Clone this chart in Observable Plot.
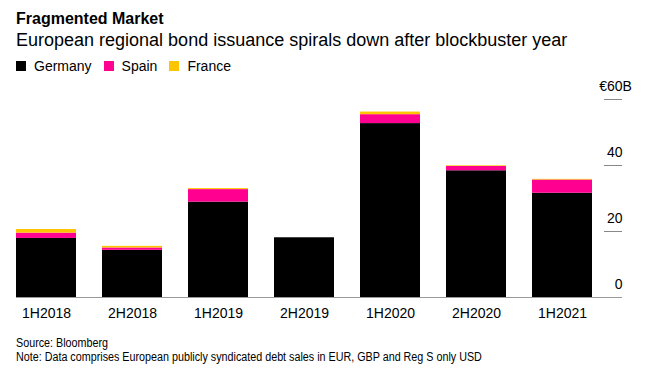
<!DOCTYPE html>
<html>
<head>
<meta charset="utf-8">
<script src="https://cdn.jsdelivr.net/npm/d3@7"></script>
<script src="https://cdn.jsdelivr.net/npm/@observablehq/plot@0.6"></script>
<style>
  html, body { margin: 0; padding: 0; background: #fff; }
  body { width: 648px; height: 376px; position: relative; overflow: hidden; font-family: "Liberation Sans", Arial, sans-serif; color: #000; }
  .t { position: absolute; left: 16px; line-height: 1; white-space: nowrap; }
  #title { top: 11px; font-size: 16px; font-weight: bold; }
  #subtitle { top: 30.5px; font-size: 18px; }
  #legend { top: 59px; font-size: 14px; display: flex; align-items: center; }
  #legend .item { display: flex; align-items: center; margin-right: 12px; }
  #legend .sw { width: 10px; height: 10px; margin-right: 8px; display: inline-block; }
  #chart { position: absolute; left: 0; top: 78px; }
  .foot { font-size: 12.5px; transform: scaleX(0.86); transform-origin: left center; }
  #source { top: 336.5px; }
  #note { top: 350.5px; }
</style>
</head>
<body>
<div id="title" class="t">Fragmented Market</div>
<div id="subtitle" class="t">European regional bond issuance spirals down after blockbuster year</div>
<div id="legend" class="t"></div>
<div id="chart"></div>
<div id="source" class="t foot">Source: Bloomberg</div>
<div id="note" class="t foot">Note: Data comprises European publicly syndicated debt sales in EUR, GBP and Reg S only USD</div>
<script>
const periods = ["1H2018", "2H2018", "1H2019", "2H2019", "1H2020", "2H2020", "1H2021"];
const countries = ["Germany", "Spain", "France"];
const colors = ["#000000", "#ff0090", "#ffc400"];
const germany = [17.9, 14.3, 28.9, 18.1, 52.7, 38.4, 31.6];
const spain = [1.6, 0.7, 3.8, 0.0, 2.7, 1.3, 4.0];
const france = [1.1, 0.5, 0.3, 0.0, 0.8, 0.2, 0.2];
const yTicks = [0, 20, 40, 60];
const yTickLabels = ["0", "20", "40", "€60"];
const yUnit = "B";

const series = {Germany: germany, Spain: spain, France: france};
const data = [];
periods.forEach((p, i) => {
  countries.forEach(c => data.push({period: p, country: c, value: series[c][i]}));
});

// legend
const legend = document.getElementById("legend");
countries.forEach((c, i) => {
  const item = document.createElement("span");
  item.className = "item";
  const sw = document.createElement("span");
  sw.className = "sw";
  sw.style.background = colors[i];
  item.appendChild(sw);
  item.appendChild(document.createTextNode(c));
  legend.appendChild(item);
});

const tickData = yTicks.map((v, i) => ({v, label: yTickLabels[i]}));

const chart = Plot.plot({
  width: 648,
  height: 252,
  marginLeft: 16,
  marginRight: 26,
  marginTop: 21,
  marginBottom: 33,
  style: {fontSize: "14px", fontFamily: "'Liberation Sans', Arial, sans-serif", color: "#000", background: "#fff"},
  x: {domain: periods, paddingInner: 0.3, paddingOuter: 0.145, align: 0, label: null, tickSize: 0, tickPadding: 11},
  y: {domain: [0, 60], axis: null},
  color: {domain: countries, range: colors},
  marks: [
    Plot.barY(data, {x: "period", y: "value", fill: "country", order: countries}),
    Plot.ruleY(yTicks.filter(v => v > 0), {stroke: "#888", strokeWidth: 1, insetLeft: 588}),
    Plot.ruleY([0], {stroke: "#999", strokeWidth: 1}),
    Plot.text(tickData, {y: "v", text: "label", frameAnchor: "right", textAnchor: "end", dy: -13, fill: "#000"}),
    Plot.text([60], {y: d => d, text: () => yUnit, frameAnchor: "right", textAnchor: "start", dy: -13, fill: "#000"})
  ]
});
document.getElementById("chart").appendChild(chart);
</script>
</body>
</html>
